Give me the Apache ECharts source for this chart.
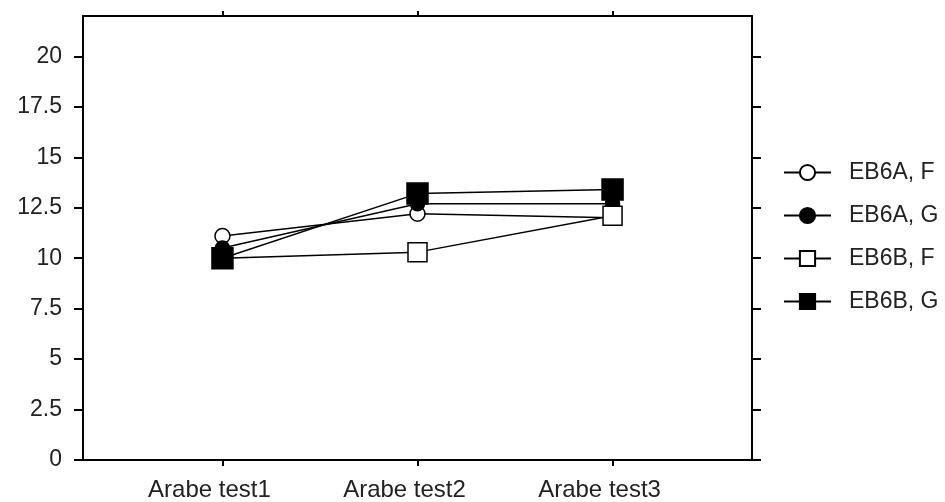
<!DOCTYPE html>
<html>
<head>
<meta charset="utf-8">
<script src="https://cdn.jsdelivr.net/npm/echarts@6/dist/echarts.min.js"></script>
<style>html,body{margin:0;padding:0;background:#fff}#c{width:945px;height:502px}</style>
</head>
<body>
<div id="c"></div>
<script>
const categories = ['Arabe test1', 'Arabe test2', 'Arabe test3'];
const seriesNames = ['EB6A, F', 'EB6A, G', 'EB6B, F', 'EB6B, G'];
const eb6aF = [11.1, 12.2, 12.0];
const eb6aG = [10.5, 12.7, 12.7];
const eb6bF = [10.0, 10.3, 12.1];
const eb6bG = [10.0, 13.2, 13.4];
const yTicks = [0, 2.5, 5, 7.5, 10, 12.5, 15, 17.5, 20];
const xTicks = [1, 2, 3];

const chart = echarts.init(document.getElementById('c'));
const font = 'Liberation Sans, Arial, sans-serif';
const toPts = arr => arr.map((v, i) => [i + 1, v]);
const styles = [
  {symbol: 'circle', size: 15, fill: '#fff'},
  {symbol: 'circle', size: 14, fill: '#000'},
  {symbol: 'rect', size: 19, fill: '#fff'},
  {symbol: 'rect', size: 21, fill: '#000'}
];
const datasets = [eb6aF, eb6aG, eb6bF, eb6bG];
const axisLine = {show: true, onZero: false, lineStyle: {color: '#000', width: 2}};
const tickStyle = {color: '#000', width: 2};
chart.setOption({
  animation: false,
  backgroundColor: '#fff',
  grid: {left: 83, top: 16, right: 193, bottom: 41},
  legend: {
    orient: 'vertical', left: 783, top: 161, padding: 0,
    itemWidth: 47, itemHeight: 19, itemGap: 20,
    textStyle: {fontFamily: font, fontSize: 23, color: '#222', padding: [0, 0, 0, 13]},
    data: seriesNames
  },
  xAxis: [{
    type: 'value', position: 'bottom', min: 0.285, max: 3.715,
    splitLine: {show: false}, axisLine: axisLine,
    axisTick: {show: true, customValues: xTicks, length: 6, lineStyle: tickStyle},
    axisLabel: {customValues: xTicks, formatter: v => categories[Math.round(v) - 1] || '',
      fontFamily: font, fontSize: 24, color: '#222', margin: 18, padding: [0, 26, 0, 0]}
  }, {
    type: 'value', position: 'top', min: 0.285, max: 3.715,
    splitLine: {show: false}, axisLine: axisLine,
    axisTick: {show: true, customValues: xTicks, length: 5, lineStyle: tickStyle},
    axisLabel: {show: false}
  }],
  yAxis: [{
    type: 'value', position: 'left', min: 0, max: 22,
    splitLine: {show: false}, axisLine: axisLine,
    axisTick: {show: true, customValues: yTicks, length: 9, lineStyle: tickStyle},
    axisLabel: {customValues: yTicks, fontFamily: font, fontSize: 23, color: '#222', margin: 21}
  }, {
    type: 'value', position: 'right', min: 0, max: 22,
    splitLine: {show: false}, axisLine: axisLine,
    axisTick: {show: true, customValues: yTicks, length: 9, lineStyle: tickStyle},
    axisLabel: {show: false}
  }],
  series: datasets.map((d, i) => ({
    name: seriesNames[i], type: 'line', xAxisIndex: 0, yAxisIndex: 0,
    data: toPts(d),
    symbol: styles[i].symbol, symbolSize: styles[i].size, showAllSymbol: true,
    lineStyle: {color: '#000', width: 1.5},
    itemStyle: {color: styles[i].fill, borderColor: '#000', borderWidth: 1.5, opacity: 1},
    emphasis: {disabled: true}
  }))
});
</script>
</body>
</html>
